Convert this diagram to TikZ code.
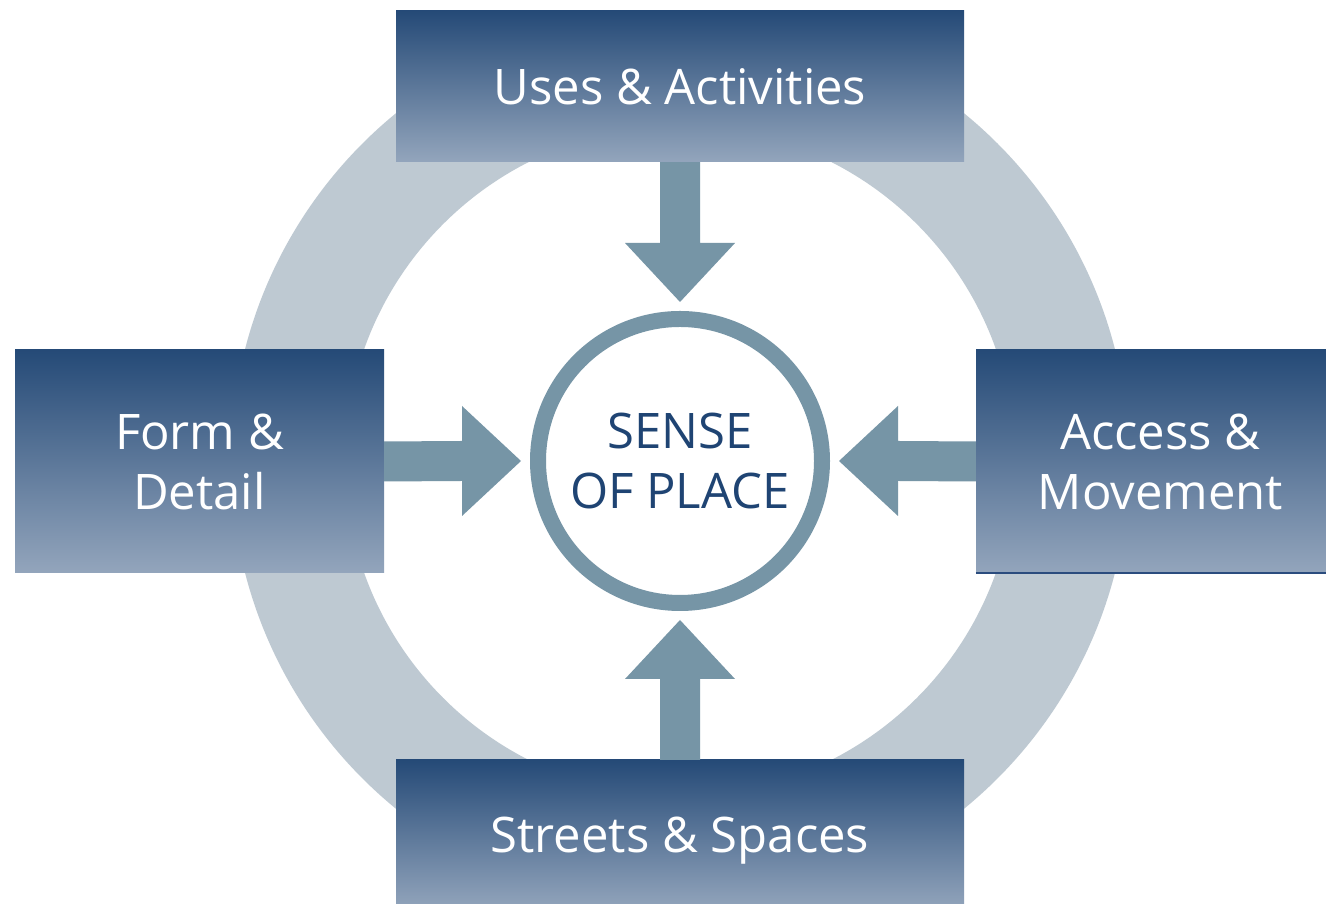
\documentclass[tikz,border=0pt]{standalone}
\usepackage{fontspec}
\setmainfont{Open Sans}
\usetikzlibrary{calc}
\definecolor{boxtop}{HTML}{254A77}
\definecolor{boxmid}{HTML}{536E92}
\definecolor{boxbot}{HTML}{93A5BC}
\definecolor{ringc}{HTML}{BEC9D2}
\definecolor{arrowc}{HTML}{7695A6}
\definecolor{sensetext}{HTML}{1F4473}
\definecolor{edgeline}{HTML}{2B4C7E}
\tikzset{
  boxnode/.style={rectangle, inner sep=0pt, text=white, align=center,
    top color=boxtop, middle color=boxmid, bottom color=boxbot,
    font=\fontsize{49}{60}\selectfont},
  blockarrow/.style={fill=arrowc},
}
\begin{document}
\begin{tikzpicture}[x=1pt,y=1pt]
\useasboundingbox (0,0) rectangle (1326,904);
\clip (0,0) rectangle (1326,904);
\fill[white] (0,0) rectangle (1326,904);
\coordinate (c) at (680,443);
% ring
\fill[ringc, even odd rule] (c) circle[radius=449] (c) circle[radius=335];
% boxes
\node[boxnode, minimum width=568pt, minimum height=151pt, text depth=0pt] (top) at (680,817.5) {Uses \& Activities};
\node[boxnode, minimum width=568pt, minimum height=150pt, text depth=0pt] (bottom) at (680,69) {Streets \& Spaces};
\node[boxnode, minimum width=369pt, minimum height=223pt] (left) at (199.5,442.5) {Form \&\\Detail};
\node[boxnode, minimum width=369pt, minimum height=223pt] (right) at (1160.5,442.5) {Access \&\\Movement};
\draw[edgeline, line width=1.5pt] (right.south west) -- (right.south east);
% centre
\node[circle, draw=arrowc, line width=16pt, fill=white, minimum size=284pt, inner sep=0pt,
      text=sensetext, align=center, font=\fontsize{49}{60}\selectfont] (sense) at (c) {SENSE\\OF PLACE};
% arrows
\fill[blockarrow] ($(top.south)+(-20,0)$) -- ($(sense.north)+(-20,68)$) -- ($(sense.north)+(-55,68)$)
  -- ($(sense.north)+(0,9)$) -- ($(sense.north)+(55,68)$) -- ($(sense.north)+(20,68)$)
  -- ($(top.south)+(20,0)$) -- cycle;
\fill[blockarrow] ($(bottom.north)+(-20,0)$) -- ($(sense.south)+(-20,-68)$) -- ($(sense.south)+(-55,-68)$)
  -- ($(sense.south)+(0,-9)$) -- ($(sense.south)+(55,-68)$) -- ($(sense.south)+(20,-68)$)
  -- ($(bottom.north)+(20,0)$) -- cycle;
\fill[blockarrow] ($(left.east)+(0,20)$) -- ($(sense.west)+(-68,20)$) -- ($(sense.west)+(-68,55)$)
  -- ($(sense.west)+(-9,0)$) -- ($(sense.west)+(-68,-55)$) -- ($(sense.west)+(-68,-20)$)
  -- ($(left.east)+(0,-20)$) -- cycle;
\fill[blockarrow] ($(right.west)+(0,20)$) -- ($(sense.east)+(68,20)$) -- ($(sense.east)+(68,55)$)
  -- ($(sense.east)+(9,0)$) -- ($(sense.east)+(68,-55)$) -- ($(sense.east)+(68,-20)$)
  -- ($(right.west)+(0,-20)$) -- cycle;
\end{tikzpicture}
\end{document}
